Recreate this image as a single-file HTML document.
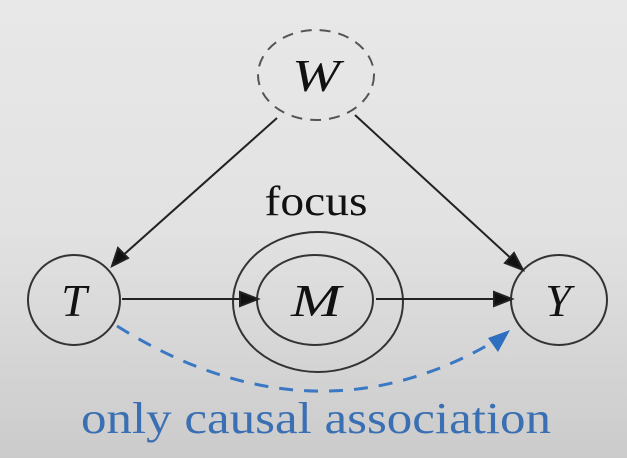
<!DOCTYPE html>
<html><head><style>
html,body{margin:0;padding:0;}
body{width:627px;height:458px;overflow:hidden;background:linear-gradient(#e8e8e8 0%,#e2e2e2 50%,#cbcbcb 100%);}
svg{display:block}
</style></head><body>
<svg width="627" height="458" viewBox="0 0 627 458" xmlns="http://www.w3.org/2000/svg">
<g fill="none" stroke="#333" stroke-width="2">
<ellipse cx="316" cy="75" rx="58" ry="45" stroke-dasharray="11,8" stroke="#555"/>
<ellipse cx="74" cy="300" rx="46" ry="45"/>
<ellipse cx="559" cy="300" rx="48" ry="45"/>
<ellipse cx="315" cy="300" rx="58" ry="45"/>
<ellipse cx="318" cy="302" rx="85" ry="70"/>
</g>
<g stroke="#222" stroke-width="2" fill="#111">
<line x1="277" y1="118" x2="120" y2="258"/>
<path d="M112,266 L118,248 L128,258 z"/>
<line x1="355" y1="115" x2="515" y2="262"/>
<path d="M523,270 L505,263 L514,253 z"/>
<line x1="122" y1="299" x2="244" y2="299"/>
<path d="M258,299 L240,292 L240,306 z"/>
<line x1="376" y1="299" x2="498" y2="299"/>
<path d="M512,299 L494,292 L494,306 z"/>
</g>
<path d="M117,326 Q315,450 500,338" fill="none" stroke="#3a78c4" stroke-width="3" stroke-dasharray="14,11"/>
<path d="M510,330 L488,338 L498,352 z" fill="#2f6fc0"/>
<g font-family="Liberation Serif, serif" font-style="italic" font-size="46" fill="#111" text-anchor="middle">
<text x="316" y="91" textLength="48" lengthAdjust="spacingAndGlyphs">W</text>
<text x="74" y="316">T</text>
<text x="316" y="316" textLength="50" lengthAdjust="spacingAndGlyphs">M</text>
<text x="558" y="316">Y</text>
</g>
<text x="316" y="215" font-family="Liberation Serif, serif" font-size="42" fill="#111" text-anchor="middle" textLength="103" lengthAdjust="spacingAndGlyphs">focus</text>
<text x="316" y="433" font-family="Liberation Serif, serif" font-size="44" fill="#3a6fb3" text-anchor="middle" textLength="470" lengthAdjust="spacingAndGlyphs">only causal association</text>
</svg>
</body></html>
